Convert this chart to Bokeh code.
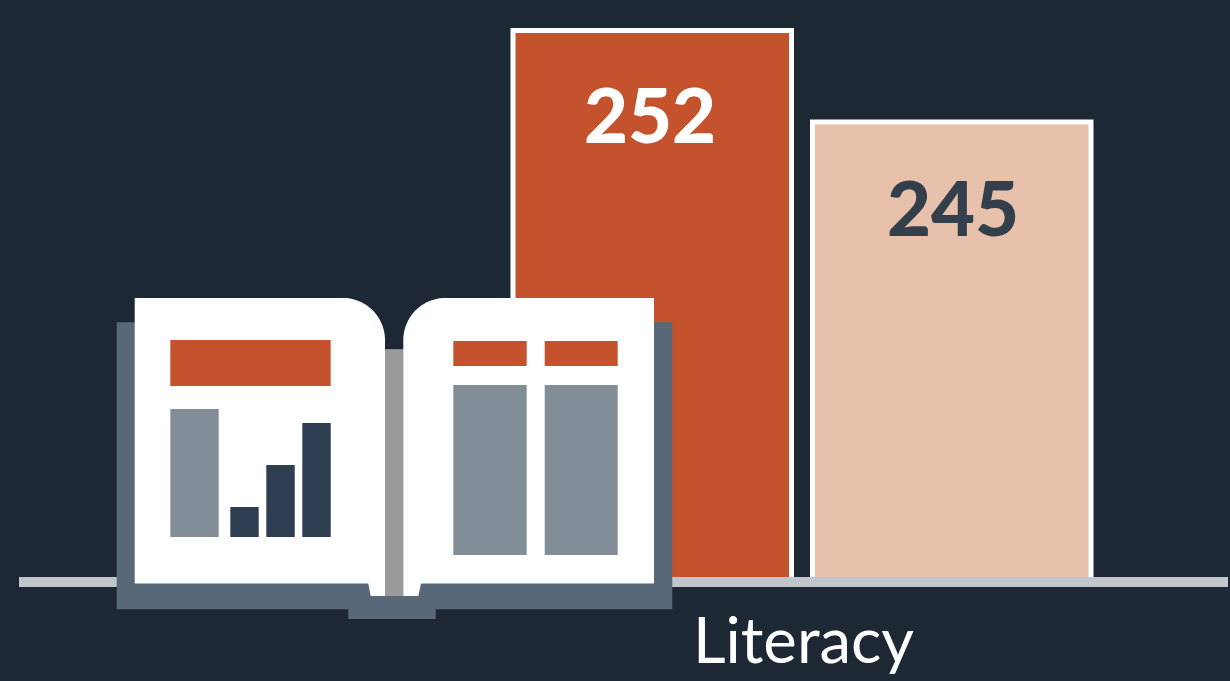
import math
from bokeh.embed import file_html
from bokeh.models import Range1d
from bokeh.plotting import figure
from bokeh.resources import INLINE
from bokeh.core.properties import value

# data
category = "Literacy"
series_values = [252, 245]
value_labels = ["252", "245"]

# layout
W, H = 1230, 681
BG = "#1e2734"
ORANGE = "#c4532d"
PEACH = "#e8c1ad"
SLATE = "#586878"
GREY = "#838d97"
NAVY = "#2c3e50"
bar_x = [652.25, 951.75]
bar_w = 278.5
bar_fill = [ORANGE, PEACH]
label_x = [650, 953]
label_y = [115, 208]
label_col = ["#ffffff", "#333f4b"]
v_top, v_bottom, v_base = 254.292, 202.192, 209.8

p = figure(width=W, height=H, output_backend="svg", toolbar_location=None,
           x_range=Range1d(0.5, W + 0.5), y_range=Range1d(v_bottom, v_top),
           x_axis_type=None, y_axis_type=None, background_fill_color=BG,
           border_fill_color=BG, min_border=0, outline_line_color=None)
p.grid.visible = False
p.styles = {"position": "fixed", "left": "0px", "top": "0px", "background-color": BG}
p.extra_y_ranges["px"] = Range1d(H + 0.5, 0.5)


def box(l, t, r, b, color):
    p.quad(left=l, right=r, top=t, bottom=b, y_range_name="px",
           fill_color=color, line_color=None)


def page(points, color="#ffffff"):
    p.patch([q[0] for q in points], [q[1] for q in points], y_range_name="px",
            fill_color=color, line_color=None)


def arc(cx, cy, r, a0, a1, n=24):
    return [(cx + r * math.cos(math.radians(a0 + (a1 - a0) * i / n)),
             cy - r * math.sin(math.radians(a0 + (a1 - a0) * i / n))) for i in range(n + 1)]


# bars, through the value scale
p.vbar(x=bar_x, top=series_values, bottom=v_base, width=bar_w, fill_color=bar_fill,
       line_color="#ffffff", line_width=5, line_join="miter")

# baseline
box(19, 577, 1228, 587, "#c1c5cc")

# value labels
p.text(x=label_x, y=label_y, text=value_labels, y_range_name="px",
       text_color=label_col, text_font=value("Lato Black, Lato"), text_font_style="normal",
       text_font_size="76px", text_align="center", text_baseline="middle")

# category label
p.text(x=[803.5], y=[638], text=[category], y_range_name="px", text_color="#ffffff",
       text_font=value("Lato"), text_font_size="63.5px",
       text_align="center", text_baseline="middle")

# book icon: cover in one piece, stepped down beside the spine
page([(116.7, 322.3), (200, 322.3), (200, 349.3), (600, 349.3), (600, 322.3), (672.3, 322.3),
      (672.3, 609.3), (435.7, 609.3), (435.7, 619), (348.3, 619), (348.3, 609.3), (116.7, 609.3)],
     SLATE)
box(385, 349.3, 403.3, 596, "#9a9a9a")

# book icon: pages
R = 42
page([(134.7, 298)] + arc(385 - R, 298 + R, R, 90, 0) +
     [(385, 596), (370.7, 596), (368.3, 583.5), (134.7, 583.5)])
page([(654, 298), (654, 583.5), (421, 583.5), (418.3, 596), (403.3, 596)] +
     arc(403.3 + R, 298 + R, R, 180, 90))

# book icon: left page contents
box(170.3, 340, 330.7, 386, ORANGE)
box(170.3, 409, 218.7, 537, GREY)
box(230.3, 507, 258.7, 537, NAVY)
box(266.3, 465, 294.7, 537, NAVY)
box(302.3, 423, 330.7, 537, NAVY)

# book icon: right page contents
box(453.3, 341, 526.7, 366, ORANGE)
box(544.7, 341, 617.7, 366, ORANGE)
box(453.3, 385, 526.7, 555, GREY)
box(544.7, 385, 617.7, 555, GREY)

open("out.html", "w").write(file_html(p, INLINE))
